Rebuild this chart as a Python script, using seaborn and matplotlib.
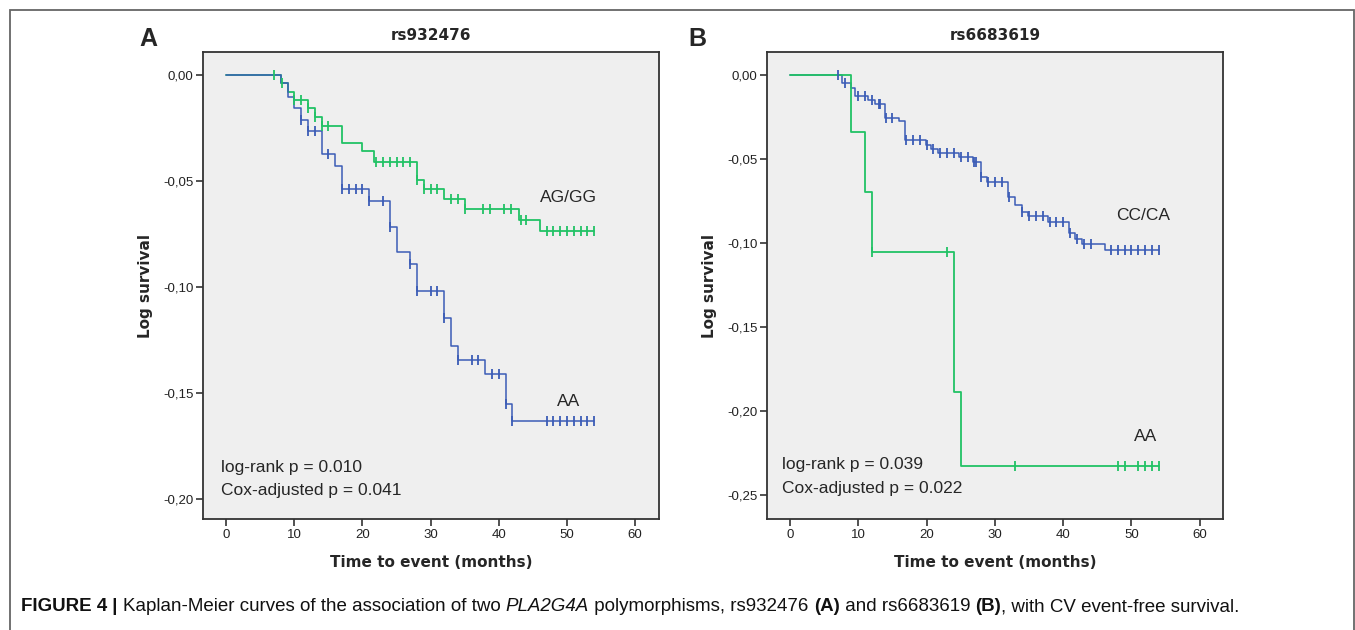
import numpy as np
import pandas as pd
import matplotlib
matplotlib.use("Agg")
import matplotlib.pyplot as plt
import seaborn as sns
from matplotlib.patches import Rectangle
from matplotlib.ticker import FuncFormatter

# ---------------- data ----------------
# Panel A: rs932476
a_gg_times = [0, 8, 9, 10, 12, 13, 14, 17, 20, 21.7, 28, 29, 32, 35, 43, 46]
a_gg_levels = [0, -0.0038, -0.0082, -0.0118, -0.0157, -0.0197, -0.0239, -0.0322,
               -0.0361, -0.0409, -0.0495, -0.054, -0.0585, -0.0634, -0.0684, -0.0736]
a_gg_censor = [7, 8.2, 10, 11, 12, 13, 14, 15, 22, 23, 24, 25, 26, 27, 28, 29, 30, 31,
               33, 34, 35, 37.7, 38.7, 40.8, 41.8, 43.2, 44, 47, 48, 49, 50, 51, 52, 53, 54]

a_aa_times = [0, 8, 9, 10, 11, 12, 14, 16, 17, 21, 24, 25, 27, 28, 32, 33, 34, 38, 41, 42]
a_aa_levels = [0, -0.0038, -0.0102, -0.0157, -0.0212, -0.0263, -0.0374, -0.0428, -0.054,
               -0.0594, -0.0715, -0.0833, -0.0893, -0.1019, -0.1148, -0.1278, -0.1344,
               -0.141, -0.1554, -0.1631]
a_aa_censor = [11, 12, 13, 15, 17, 18, 19, 20, 21, 23, 24, 27, 28, 30, 31, 32, 34, 36, 37,
               39, 40, 41, 42, 47, 48, 49, 50, 51, 52, 53, 54]

# Panel B: rs6683619
b_aa_times = [0, 9, 11, 12, 24, 25]
b_aa_levels = [0, -0.0337, -0.0693, -0.1054, -0.1884, -0.2326]
b_aa_censor = [12, 23, 33, 48, 49, 51, 52, 53, 54]

b_cc_times = [0, 7.6, 8.9, 9.5, 11.4, 12.4, 13.9, 16, 16.9, 19.9, 20.7, 21.7, 24.8, 26.8,
              27.9, 28.8, 31.9, 33, 34, 34.8, 37.8, 40.9, 41.8, 42.8, 46.1]
b_cc_levels = [0, -0.0048, -0.0074, -0.0123, -0.0144, -0.0168, -0.0253, -0.0273, -0.0386,
               -0.0412, -0.0437, -0.0461, -0.0489, -0.0518, -0.0604, -0.0634, -0.0723,
               -0.0772, -0.0812, -0.0837, -0.0871, -0.094, -0.0972, -0.1002, -0.1037]
b_cc_censor = [7, 8, 10, 11, 12, 13, 13.2, 14, 15, 17, 18, 19, 20, 21, 22, 23, 24, 25, 26,
               27, 27.2, 28, 29, 30, 31, 32, 34, 35, 36, 37, 38, 39, 40, 41, 42, 43, 44,
               47, 48, 49, 50, 51, 52, 53, 54]

end_time = 54
x_ticks = [0, 10, 20, 30, 40, 50, 60]
a_yticks = [0, -0.05, -0.10, -0.15, -0.20]
b_yticks = [0, -0.05, -0.10, -0.15, -0.20, -0.25]

GREEN = "#22c265"
BLUE = "#3b5cb6"

# ---------------- style ----------------
sns.set_style("white")
plt.rcParams["font.family"] = ["Liberation Sans", "DejaVu Sans"]

W, H = 1355, 630
fig = plt.figure(figsize=(W / 100, H / 100), dpi=100)


def px_axes(l, t, r, b):
    return [l / W, 1 - b / H, (r - l) / W, (b - t) / H]


def draw_curve(ax, times, levels, censor, color, lw):
    xs = list(times) + [end_time]
    ys = list(levels) + [levels[-1]]
    df = pd.DataFrame({"t": xs, "s": ys})
    sns.lineplot(data=df, x="t", y="s", ax=ax, color=color, lw=lw,
                 drawstyle="steps-post", estimator=None, sort=False)
    idx = np.searchsorted(np.array(times), np.array(censor), side="right") - 1
    cy = np.array(levels)[idx]
    cdf = pd.DataFrame({"t": censor, "s": cy})
    sns.scatterplot(data=cdf, x="t", y="s", ax=ax, marker="|", s=60,
                    color=color, linewidth=1.3, zorder=4)


def style_axes(ax, xlim, ylim, yticks):
    ax.set_facecolor("#efefef")
    ax.set_xlim(*xlim)
    ax.set_ylim(*ylim)
    ax.set_xticks(x_ticks)
    ax.set_yticks(yticks)
    ax.yaxis.set_major_formatter(FuncFormatter(lambda v, p: f"{v:.2f}".replace(".", ",").replace("-0,00", "0,00")))
    for s in ax.spines.values():
        s.set_color("#333333")
        s.set_linewidth(1.3)
    ax.tick_params(axis="both", which="major", direction="out", length=5, width=1.2,
                   color="#333333", labelsize=9.5, labelcolor="#222222",
                   bottom=True, left=True, top=False, right=False, pad=2)
    ax.set_xlabel("Time to event (months)", fontsize=11, fontweight="bold",
                  family="DejaVu Sans", labelpad=10)
    ax.set_ylabel("Log survival", fontsize=11, fontweight="bold",
                  family="DejaVu Sans", labelpad=7)


# Panel A
axA = fig.add_axes(px_axes(203, 52, 659, 519))
draw_curve(axA, a_gg_times, a_gg_levels, a_gg_censor, GREEN, 1.3)
draw_curve(axA, a_aa_times, a_aa_levels, a_aa_censor, BLUE, 1.1)
style_axes(axA, (-3.4, 63.5), (-0.2094, 0.0108), a_yticks)
axA.set_title("rs932476", fontsize=11, fontweight="bold", family="DejaVu Sans", pad=9)
axA.text(50.2, -0.058, "AG/GG", fontsize=12.5, ha="center", va="center")
axA.text(50.2, -0.1538, "AA", fontsize=12.5, ha="center", va="center")
axA.text(-0.7, -0.185, "log-rank p = 0.010", fontsize=12.5, ha="left", va="center")
axA.text(-0.7, -0.1958, "Cox-adjusted p = 0.041", fontsize=12.5, ha="left", va="center")

# Panel B
axB = fig.add_axes(px_axes(767, 52, 1223, 519))
draw_curve(axB, b_cc_times, b_cc_levels, b_cc_censor, BLUE, 1.1)
draw_curve(axB, b_aa_times, b_aa_levels, b_aa_censor, GREEN, 1.3)
style_axes(axB, (-3.37, 63.4), (-0.2641, 0.0139), b_yticks)
axB.set_title("rs6683619", fontsize=11, fontweight="bold", family="DejaVu Sans", pad=9)
axB.text(51.7, -0.0832, "CC/CA", fontsize=12.5, ha="center", va="center")
axB.text(52.0, -0.2147, "AA", fontsize=12.5, ha="center", va="center")
axB.text(-1.2, -0.2319, "log-rank p = 0.039", fontsize=12.5, ha="left", va="center")
axB.text(-1.2, -0.2457, "Cox-adjusted p = 0.022", fontsize=12.5, ha="left", va="center")

# Panel letters
fig.text(148 / W, 1 - 39 / H, "A", fontsize=18, fontweight="bold", ha="center", va="center")
fig.text(697 / W, 1 - 39 / H, "B", fontsize=18, fontweight="bold", ha="center", va="center")

# Outer frame
fig.add_artist(Rectangle((9.5 / W, -0.05), (1353.5 - 9.5) / W, 1.05 - 10 / H,
                         transform=fig.transFigure, fill=False, edgecolor="#666666",
                         lw=1.3, clip_on=False))

# Caption built from pieces
pieces = [
    ("FIGURE 4", "bold", "normal"),
    (" | ", "bold", "normal"),
    ("Kaplan-Meier curves of the association of two ", "normal", "normal"),
    ("PLA2G4A", "normal", "italic"),
    (" polymorphisms, rs932476 ", "normal", "normal"),
    ("(A)", "bold", "normal"),
    (" and rs6683619 ", "normal", "normal"),
    ("(B)", "bold", "normal"),
    (", with CV event-free survival.", "normal", "normal"),
]
fig.canvas.draw()
renderer = fig.canvas.get_renderer()
xpos = 21
ybase = 1 - 611 / H
for txt, wt, st in pieces:
    t = fig.text(xpos / W, ybase, txt, fontsize=13.5, fontweight=wt, fontstyle=st,
                 ha="left", va="baseline", color="#111111")
    bb = t.get_window_extent(renderer=renderer)
    xpos = bb.x1

fig.savefig("out.png", dpi=100)
